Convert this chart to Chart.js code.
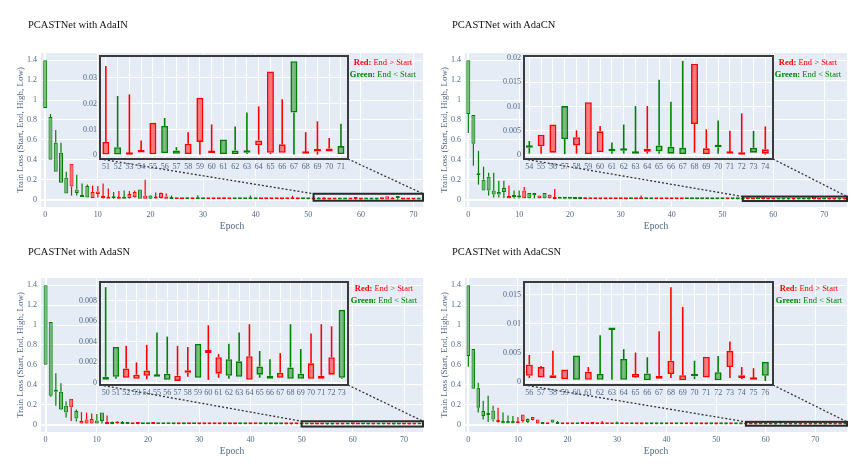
<!DOCTYPE html>
<html><head><meta charset="utf-8">
<script src="https://cdn.jsdelivr.net/npm/chart.js@4.4.1/dist/chart.umd.min.js"></script>
<style>
html,body{margin:0;padding:0;background:#fff;}
#wrap{position:relative;width:865px;height:476px;overflow:hidden;font-family:"Liberation Serif","Times New Roman","DejaVu Serif",serif;}
#wrap canvas{position:absolute;}
.ttl{position:absolute;font-size:10.5px;line-height:16px;color:#111;white-space:nowrap;}
.leg{position:absolute;width:120px;text-align:center;font-size:8.5px;line-height:12px;white-space:nowrap;}
</style></head><body><div id="wrap"></div>
<script>
// ---------------- DATA ----------------
const titles = ['PCASTNet with AdaIN','PCASTNet with AdaCN','PCASTNet with AdaSN','PCASTNet with AdaCSN'];
const yTicks = [0,0.2,0.4,0.6,0.8,1,1.2,1.4];
const yTickLabels = ['0','0.2','0.4','0.6','0.8','1','1.2','1.4'];
const xTicks = [0,10,20,30,40,50,60,70];
const xTickLabels = ['0','10','20','30','40','50','60','70'];
const xTitle = 'Epoch';
const yTitle = 'Train Loss (Start, End, High, Low)';
const legendRed = ['Red:',' End > Start'];
const legendGreen = ['Green:',' End < Start'];

// AdaIN, epochs 0..71
const p1Open = [1.40,0.83,0.57,0.47,0.22,0.13,0.10,0.04,0.135,0.015,
 0.055,0.015,0.008,0.02,0.008,0.025,0.015,0.025,0.10,0.008,
 0.04,0.01,0.015,0.008,0.015,0.004,0.004,0.008,0.003,0.009,
 0.007,0.003,0.003,0.002,0.004,0.003,0.008,0.007,0.006,0.009,
 0.007,0.003,0.003,0.002,0.003,0.002,0.003,0.003,0.002,0.006,
 0.005,0.0003,0.0032,0.0002,0.0011,0.0004,0.0114,0.0019,0.0005,0.0052,
 0.0009,0.0062,0.0019,0.0015,0.0039,0.001,0.001,0.0365,0.0006,0.0015,
 0.0015,0.0036];
const p1Close = [0.92,0.40,0.28,0.17,0.06,0.36,0.065,0.025,0.02,0.075,
 0.08,0.035,0.025,0.012,0.02,0.008,0.055,0.075,0.008,0.04,
 0.008,0.025,0.065,0.03,0.006,0.008,0.007,0.004,0.006,0.004,
 0.003,0.008,0.007,0.006,0.013,0.007,0.003,0.003,0.002,0.003,
 0.003,0.006,0.007,0.006,0.007,0.006,0.006,0.006,0.005,0.002,
 0.002,0.0052,0.0003,0.0004,0.0015,0.0126,0.0009,0.0006,0.0045,0.0223,
 0.0015,0.0005,0.0005,0.001,0.0058,0.0325,0.0043,0.0166,0.0012,0.0025,
 0.0027,0.0005];
const p1High = [1.40,0.86,0.70,0.57,0.28,0.36,0.25,0.16,0.15,0.14,
 0.135,0.16,0.11,0.075,0.085,0.09,0.085,0.09,0.10,0.20,
 0.045,0.07,0.07,0.06,0.04,0.012,0.015,0.02,0.012,0.042,
 0.018,0.012,0.01,0.01,0.02,0.012,0.015,0.012,0.01,0.04,
 0.012,0.01,0.012,0.01,0.012,0.01,0.009,0.038,0.008,0.01,
 0.012,0.0346,0.023,0.0236,0.0058,0.0126,0.0145,0.0032,0.009,0.0223,
 0.012,0.0062,0.0112,0.0166,0.019,0.0325,0.0217,0.0365,0.009,0.0132,
 0.0067,0.0123];
const p1Low = [0.92,0.40,0.28,0.17,0.06,0.04,0.04,0.025,0.02,0.015,
 0.02,0.01,0.008,0.005,0.005,0.005,0.01,0.02,0.008,0.005,
 0.005,0.005,0.01,0.005,0.004,0.003,0.003,0.003,0.002,0.003,
 0.002,0.002,0.002,0.002,0.003,0.002,0.002,0.002,0.002,0.002,
 0.002,0.002,0.002,0.002,0.002,0.001,0.002,0.002,0.001,0.001,
 0.001,0.0003,0.0003,0.0002,0.0011,0.0004,0.0009,0.0006,0.0005,0.0003,
 0.0009,0.0005,0.0005,0.0005,0.0004,0.0005,0.001,0.0003,0.0006,0.0003,
 0.0015,0.0005];

// AdaCN, epochs 0..74
const p2Open = [1.40,0.85,0.26,0.20,0.23,0.09,0.075,0.115,0.012,0.03,
 0.025,0.013,0.065,0.06,0.013,0.065,0.013,0.005,0.015,0.014,
 0.015,0.012,0.011,0.004,0.004,0.003,0.003,0.003,0.003,0.002,
 0.003,0.002,0.007,0.003,0.004,0.009,0.008,0.003,0.002,0.003,
 0.003,0.002,0.003,0.006,0.006,0.005,0.006,0.005,0.006,0.005,
 0.006,0.002,0.005,0.004,
 0.0017,0.0018,0.0005,0.0101,0.002,0.0002,0.0006,0.001,0.0012,0.0006,
 0.0007,0.002,0.0017,0.0015,0.0064,0.0002,0.0018,0.0003,0.0001,0.0015,0.0003];
const p2Close = [0.86,0.56,0.245,0.09,0.09,0.05,0.05,0.075,0.035,0.025,
 0.02,0.09,0.013,0.045,0.04,0.013,0.047,0.01,0.008,0.007,
 0.008,0.006,0.005,0.01,0.009,0.008,0.007,0.008,0.007,0.006,
 0.007,0.006,0.003,0.006,0.01,0.004,0.003,0.007,0.006,0.007,
 0.007,0.006,0.006,0.003,0.002,0.002,0.002,0.002,0.002,0.002,
 0.002,0.005,0.002,0.002,
 0.0015,0.0042,0.0063,0.0033,0.0037,0.0109,0.0049,0.0008,0.0009,0.0003,
 0.0013,0.0008,0.0003,0.0002,0.0188,0.0014,0.0016,0.0005,0.0005,0.0005,0.0012];
const p2High = [1.40,0.85,0.49,0.33,0.27,0.27,0.19,0.19,0.14,0.09,
 0.09,0.125,0.065,0.065,0.04,0.065,0.05,0.105,0.02,0.016,
 0.02,0.016,0.015,0.02,0.015,0.012,0.012,0.013,0.012,0.01,
 0.012,0.01,0.01,0.01,0.04,0.02,0.012,0.01,0.009,0.01,
 0.011,0.01,0.009,0.009,0.008,0.008,0.009,0.008,0.009,0.008,
 0.009,0.008,0.008,0.007,
 0.0029,0.0042,0.0063,0.0101,0.0051,0.0109,0.006,0.0026,0.0063,0.0101,
 0.0101,0.0155,0.011,0.0194,0.0188,0.0053,0.0071,0.005,0.0086,0.005,0.0059];
const p2Low = [0.67,0.34,0.15,0.09,0.04,0.02,0.02,0.015,0.01,0.01,
 0.01,0.01,0.01,0.01,0.01,0.01,0.01,0.003,0.005,0.004,
 0.004,0.004,0.003,0.003,0.003,0.002,0.002,0.002,0.002,0.002,
 0.002,0.001,0.002,0.002,0.003,0.003,0.002,0.002,0.002,0.002,
 0.002,0.001,0.002,0.002,0.001,0.001,0.001,0.001,0.001,0.001,
 0.001,0.001,0.001,0.001,
 0.0003,0.0003,0.0005,0,0.0003,0.0002,0.0006,0.0003,0.0003,0.0003,
 0.0003,0.0003,0.0003,0.0002,0.0005,0.0002,0.0003,0.0003,0.0001,0.0005,0.0001];

// AdaSN, epochs 0..73
const p3Open = [1.40,1.03,0.345,0.33,0.19,0.175,0.135,0.01,0.01,0.01,
 0.04,0.12,0.005,0.01,0.01,0.012,0.01,0.004,0.005,0.009,
 0.008,0.006,0.007,0.006,0.006,0.005,0.002,0.005,0.003,0.006,
 0.002,0.002,0.002,0.002,0.002,0.006,0.002,0.002,0.005,0.005,
 0.002,0.002,0.005,0.004,0.006,0.004,0.005,0.002,0.002,0.002,
 0.0006,0.0035,0.0005,0.0004,0.0007,0.0007,0.0009,0.0002,0.001,0.0038,
 0.0029,0.0009,0.0023,0.0021,0.0003,0.0016,0.0007,0.0005,0.0015,0.0009,
 0.0004,0.0004,0.0008,0.0071];
const p3Close = [0.60,0.29,0.33,0.15,0.12,0.26,0.06,0.035,0.05,0.055,
 0.01,0.035,0.01,0.005,0.03,0.006,0.005,0.008,0.015,0.004,
 0.004,0.02,0.003,0.003,0.002,0.002,0.006,0.002,0.008,0.003,
 0.006,0.005,0.006,0.005,0.005,0.002,0.005,0.005,0.002,0.002,
 0.005,0.005,0.002,0.002,0.002,0.002,0.002,0.004,0.004,0.004,
 0.0003,0.0006,0.0014,0.0008,0.0012,0.0006,0.0003,0.0007,0.0012,0.0005,
 0.0032,0.0025,0.0007,0.0006,0.0026,0.0008,0.0004,0.001,0.0004,0.0004,
 0.0019,0.0007,0.0025,0.0005];
const p3High = [1.40,1.03,0.515,0.415,0.235,0.26,0.15,0.125,0.12,0.11,
 0.105,0.12,0.09,0.03,0.035,0.035,0.02,0.012,0.018,0.012,
 0.012,0.022,0.01,0.009,0.009,0.008,0.009,0.008,0.012,0.012,
 0.009,0.008,0.009,0.008,0.008,0.012,0.008,0.007,0.008,0.007,
 0.008,0.007,0.007,0.007,0.015,0.007,0.012,0.007,0.006,0.006,
 0.0093,0.0035,0.0036,0.002,0.0037,0.0049,0.0045,0.0036,0.0035,0.0038,
 0.0056,0.0028,0.0038,0.0049,0.0057,0.0031,0.0023,0.0029,0.0057,0.0033,
 0.0048,0.0057,0.0055,0.0071];
const p3Low = [0.60,0.28,0.19,0.145,0.07,0.035,0.03,0.008,0.008,0.008,
 0.008,0.01,0.004,0.004,0.005,0.004,0.004,0.003,0.004,0.003,
 0.003,0.005,0.002,0.002,0.002,0.001,0.001,0.001,0.002,0.002,
 0.001,0.001,0.001,0.001,0.001,0.001,0.001,0.001,0.001,0.001,
 0.001,0.001,0.001,0.001,0.001,0.001,0.001,0.001,0.001,0.001,
 0.0003,0.0004,0.0005,0.0004,0.00035,0.0006,0.0003,0.0002,0.0006,0.0005,
 0.0003,0.0005,0.0004,0.0006,0.0003,0.0005,0.0004,0.0005,0.0004,0.0004,
 0.0004,0.0004,0.0008,0.0004];

// AdaCSN, epochs 0..76
const p4Open = [1.40,0.76,0.37,0.135,0.11,0.14,0.025,0.035,0.035,0.035,
 0.012,0.035,0.055,0.045,0.01,0.01,0.004,0.05,0.012,0.004,
 0.004,0.004,0.012,0.006,0.004,0.005,0.003,0.004,0.003,0.003,
 0.01,0.003,0.003,0.006,0.002,0.002,0.006,0.005,0.005,0.006,
 0.005,0.002,0.005,0.005,0.002,0.002,0.005,0.002,0.002,0.005,
 0.002,0.005,0.004,0.002,0.005,0.004,
 0.001,0.0007,0.0006,0.0004,0.0045,0.0003,0.0013,0.009,0.0039,0.0007,
 0.0014,0.0005,0.0013,0.0002,0.0011,0.0007,0.0016,0.0025,0.0006,0.0003,0.0034];
const p4Close = [0.69,0.36,0.17,0.085,0.095,0.05,0.045,0.012,0.012,0.012,
 0.02,0.10,0.025,0.075,0.05,0.005,0.009,0.02,0.005,0.009,
 0.008,0.009,0.004,0.02,0.012,0.015,0.007,0.01,0.007,0.006,
 0.004,0.006,0.006,0.003,0.006,0.005,0.002,0.002,0.002,0.002,
 0.002,0.005,0.002,0.002,0.005,0.005,0.002,0.005,0.004,0.002,
 0.004,0.002,0.002,0.007,0.002,0.002,
 0.0029,0.0025,0.0011,0.0021,0.0003,0.0017,0.0003,0.0089,0.0003,0.0013,
 0.0002,0.001,0.0036,0.0011,0.0009,0.0043,0.0002,0.0053,0.0011,0.0006,0.001];
const p4High = [1.40,0.76,0.42,0.24,0.29,0.19,0.17,0.12,0.09,0.085,
 0.075,0.10,0.06,0.075,0.05,0.02,0.012,0.05,0.035,0.012,
 0.01,0.012,0.015,0.022,0.015,0.015,0.01,0.035,0.01,0.009,
 0.03,0.009,0.009,0.01,0.009,0.008,0.009,0.008,0.008,0.009,
 0.008,0.008,0.008,0.007,0.008,0.007,0.007,0.008,0.007,0.007,
 0.007,0.008,0.007,0.01,0.007,0.007,
 0.0046,0.0027,0.0053,0.0021,0.0045,0.0025,0.008,0.009,0.0056,0.005,
 0.0042,0.0087,0.0163,0.0129,0.0036,0.0043,0.0044,0.0069,0.0025,0.0023,0.0034];
const p4Low = [0.58,0.36,0.12,0.05,0.025,0.03,0.02,0.01,0.01,0.01,
 0.01,0.02,0.015,0.04,0.008,0.004,0.003,0.015,0.004,0.003,
 0.003,0.003,0.003,0.005,0.003,0.004,0.002,0.003,0.002,0.002,
 0.003,0.002,0.002,0.002,0.001,0.001,0.001,0.001,0.001,0.001,
 0.001,0.001,0.001,0.001,0.001,0.001,0.001,0.001,0.001,0.001,
 0.001,0.001,0.001,0.001,0.001,0.001,
 0.0006,0.0007,0.0006,0.0004,0.0003,0.0003,0.0003,0.0003,0.0003,0.0006,
 0.0002,0.0005,0.0006,0.0002,0.0004,0.0007,0.0002,0.0006,0.0004,0.0003,0.0001];

// zoomed (inset) windows: first epoch shown in each inset
const insetFirst = [51,54,50,56];
const insetYTicks = [[0,0.01,0.02,0.03],[0,0.005,0.01,0.015,0.02],[0,0.002,0.004,0.006,0.008],[0,0.005,0.01,0.015]];
const insetYTickLabels = [['0','0.01','0.02','0.03'],['0','0.005','0.01','0.015','0.02'],['0','0.002','0.004','0.006','0.008'],['0','0.005','0.01','0.015']];
const mainXRange = [[-0.8,71.8],[-0.65,74.5],[-0.9,73.7],[-0.67,76.4]];
const mainYRange = [-0.075,1.473];
const insetXRange = [[50.5,71.6],[53.55,74.65],[49.45,73.6],[55.55,76.65]];
const insetYRange = [[-0.0014,0.0385],[-0.0008,0.0204],[-0.0002,0.0098],[-0.0006,0.0172]];
const zoomBoxY = [[-0.012,0.058],[-0.015,0.03],[-0.02,0.033],[-0.012,0.027]];

// ---------------- LAYOUT / STYLE ----------------
const series = [[p1Open,p1Close,p1High,p1Low],[p2Open,p2Close,p2High,p2Low],[p3Open,p3Close,p3High,p3Low],[p4Open,p4Close,p4High,p4Low]];
const layout = [
 {main:[0,0,432,235], padR:9, inset:[100,56,348,159], title:[28,25], leg:[383,56], mBody:4, iBody:7},
 {main:[424,0,441,235], padR:18, inset:[524,56,773,159], title:[452,25], leg:[808,56], mBody:4, iBody:7},
 {main:[0,225,432,235], padR:9, inset:[100,282,348,385], title:[28,252], leg:[384,282], mBody:4, iBody:6.5},
 {main:[424,225,441,235], padR:18, inset:[524,282,773,385], title:[452,252], leg:[809,282], mBody:3.6, iBody:7}
];
const RED='#ff0000', RED_F='rgba(255,0,0,0.5)', GREEN='#008000', GREEN_F='rgba(0,128,0,0.5)';
const FONT='"Liberation Serif","Times New Roman","DejaVu Serif",serif';
const TICK='#506784';
const wrap=document.getElementById('wrap');

function mkCanvas(l,t,w,h){const c=document.createElement('canvas');c.width=w;c.height=h;c.style.left=l+'px';c.style.top=t+'px';c.style.width=w+'px';c.style.height=h+'px';wrap.appendChild(c);return c;}
function mkDiv(cls,l,t,html,color){const d=document.createElement('div');d.className=cls;d.style.left=l+'px';d.style.top=t+'px';if(color)d.style.color=color;d.innerHTML=html;wrap.appendChild(d);return d;}
function esc(s){return s.replace(/&/g,'&amp;').replace(/</g,'&lt;').replace(/>/g,'&gt;');}

function candleDatasets(s,from,to,st){
  const [o,c,h,l]=s;
  const wLo=[],wHi=[],body=[],lc=[],fc=[];
  for(let i=from;i<=to;i++){
    const up=c[i]>o[i];
    const bLo=Math.min(o[i],c[i]), bHi=Math.max(o[i],c[i]);
    wLo.push({x:i,y:[l[i],bLo]}); wHi.push({x:i,y:[bHi,h[i]]});
    body.push({x:i,y:[o[i],c[i]]});
    lc.push(up?RED:GREEN); fc.push(up?RED_F:GREEN_F);
  }
  const wick=d=>({data:d,backgroundColor:lc,borderWidth:0,barThickness:st.wick,grouped:false,order:2,inflateAmount:0});
  return [wick(wLo),wick(wHi),{data:body,backgroundColor:fc,borderColor:lc,borderWidth:st.bw,borderSkipped:false,barThickness:st.body,minBarLength:st.minLen,grouped:false,order:1,inflateAmount:0}];
}
const bgPlugin={id:'bg',beforeDraw(ch){const a=ch.chartArea,c=ch.ctx;c.save();c.fillStyle='#E5ECF6';c.fillRect(a.left,a.top,a.right-a.left,a.bottom-a.top);c.restore();}};
const gridW=ctx=>(ctx.tick&&Math.abs(ctx.tick.value)<1e-12)?2:1;

function xAxis(range,ticks,labels,height,pad,title){
  const ax={type:'linear',min:range[0],max:range[1],offset:false,
    afterBuildTicks:s=>{s.ticks=ticks.map(v=>({value:v}));},
    afterFit:s=>{s.height=height;},
    grid:{color:'#ffffff',lineWidth:gridW,drawTicks:false,offset:false},
    border:{display:false},
    ticks:{color:TICK,font:{family:FONT,size:8},padding:pad,maxRotation:0,autoSkip:false,callback:(v,i)=>labels[i]}};
  if(title) ax.title={display:true,text:title,color:TICK,font:{family:FONT,size:9.5},padding:{top:0,bottom:2.5}};
  return ax;
}
function yAxis(range,ticks,labels,width,pad,title){
  const ax={type:'linear',min:range[0],max:range[1],beginAtZero:false,
    afterBuildTicks:s=>{s.ticks=ticks.map(v=>({value:v}));},
    afterFit:s=>{s.width=width;},
    grid:{color:'#ffffff',lineWidth:gridW,drawTicks:false},
    border:{display:false},
    ticks:{color:TICK,font:{family:FONT,size:8},padding:pad,autoSkip:false,callback:(v,i)=>labels[i]}};
  if(title) ax.title={display:true,text:title,color:TICK,font:{family:FONT,size:9},padding:{top:15,bottom:0}};
  return ax;
}
const common={responsive:false,animation:false,events:[],plugins:{legend:{display:false},tooltip:{enabled:false}}};

layout.forEach((L,p)=>{
  const s=series[p], n=s[0].length, first=insetFirst[p];
  // inset chart
  const [bl,bt,br,bb]=L.inset;
  const iL=bl-40, iT=bt-8, iW=(br-bl)+40+6, iH=(bb-bt)+8+18;
  // main chart
  const [mL,mT,mW,mH]=L.main;
  const mc=mkCanvas(mL,mT,mW,mH);
  const ic=mkCanvas(iL,iT,iW,iH);
  const insetTicks=[]; const insetLabels=[];
  for(let i=first;i<n;i++){insetTicks.push(i);insetLabels.push(String(i));}
  const boxPlugin={id:'box',afterDraw(ch){const a=ch.chartArea,c=ch.ctx;c.save();c.strokeStyle='#3a3a3a';c.lineWidth=2;c.strokeRect(a.left,a.top,a.right-a.left,a.bottom-a.top);c.restore();}};
  const inset=new Chart(ic,{type:'bar',data:{datasets:candleDatasets(s,first,n-1,{wick:1.6,body:L.iBody,bw:1.6,minLen:2.5})},
    options:Object.assign({},common,{layout:{padding:{top:8,right:6,left:0,bottom:0}},
      scales:{x:xAxis(insetXRange[p],insetTicks,insetLabels,18,3,null),y:yAxis(insetYRange[p],insetYTicks[p],insetYTickLabels[p],40,3,null)}}),
    plugins:[bgPlugin,boxPlugin]});
  const zoomPlugin={id:'zoom',afterDraw(ch){
    const xs=ch.scales.x, ys=ch.scales.y, c=ch.ctx;
    const x0=xs.getPixelForValue(first), x1=xs.getPixelForValue(xs.max);
    const y0=ys.getPixelForValue(zoomBoxY[p][1]), y1=ys.getPixelForValue(zoomBoxY[p][0]);
    const a=inset.chartArea, dx=iL-mL, dy=iT-mT;
    c.save();
    c.strokeStyle='#333';c.lineWidth=1.3;c.setLineDash([2,2]);
    c.beginPath();c.moveTo(a.left+dx,a.bottom+dy);c.lineTo(x0,y0);c.moveTo(a.right+dx,a.bottom+dy);c.lineTo(x1,y0);c.stroke();
    c.setLineDash([]);c.strokeStyle='#2a2a2a';c.lineWidth=2;c.strokeRect(x0,y0,x1-x0,y1-y0);
    c.restore();
  }};
  new Chart(mc,{type:'bar',data:{datasets:candleDatasets(s,0,n-1,{wick:1.2,body:L.mBody,bw:1,minLen:2})},
    options:Object.assign({},common,{layout:{padding:{top:53,right:L.padR,left:0,bottom:0}},
      scales:{x:xAxis(mainXRange[p],xTicks,xTickLabels,28,3,xTitle),y:yAxis(mainYRange,yTicks,yTickLabels,41,4,yTitle)}}),
    plugins:[bgPlugin,zoomPlugin]});
  // texts
  mkDiv('ttl',L.title[0],L.title[1]-8,esc(titles[p]));
  mkDiv('leg',L.leg[0]-60,L.leg[1],'<b>'+esc(legendRed[0])+'</b>'+esc(legendRed[1])+'<br><span style="color:'+GREEN+'"><b>'+esc(legendGreen[0])+'</b>'+esc(legendGreen[1])+'</span>',RED);
});
</script></body></html>
